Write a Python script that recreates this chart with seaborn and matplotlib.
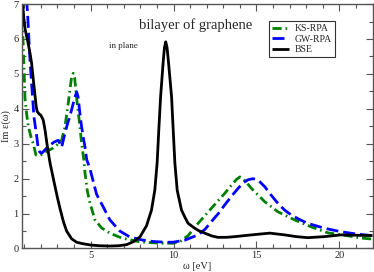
import numpy as np
import pandas as pd
import matplotlib
matplotlib.use("Agg")
import matplotlib.pyplot as plt
import seaborn as sns
from matplotlib.ticker import MultipleLocator

# ---- data ----
ks_w = [0.85, 0.92, 0.98, 1.04, 1.14, 1.24, 1.4, 1.54, 1.7, 1.85, 2.0, 2.25, 2.5, 2.75, 3.0, 3.25,
        3.45, 3.65, 3.85, 3.95, 4.03, 4.11, 4.2, 4.31, 4.46, 4.6, 4.66, 4.8, 4.96, 5.26, 5.66, 6.16,
        6.87, 7.97, 8.57, 9.3, 9.97, 10.4, 10.88, 11.48, 12.28, 13.09, 13.5, 13.8, 14.0, 14.2, 14.7,
        15.5, 16.3, 17.3, 18.3, 19.3, 20.3, 21.3, 22.0]
ks_v = [7.3, 6.0, 5.2, 4.3, 3.85, 3.5, 3.2, 3.0, 2.68, 2.66, 2.68, 2.75, 2.82, 2.88, 2.98, 3.1,
        3.48, 4.17, 4.91, 5.02, 4.9, 4.54, 4.1, 3.68, 3.0, 2.5, 2.16, 1.65, 1.3, 0.82, 0.59, 0.44,
        0.3, 0.19, 0.17, 0.15, 0.15, 0.2, 0.37, 0.72, 1.15, 1.58, 1.82, 1.98, 2.05, 2.0, 1.72,
        1.34, 1.05, 0.82, 0.62, 0.45, 0.38, 0.3, 0.27]

gw_w = [1.1, 1.2, 1.34, 1.48, 1.58, 1.75, 1.84, 1.95, 2.05, 2.2, 2.35, 2.55, 2.8, 3.05, 3.15, 3.25,
        3.4, 3.55, 3.7, 3.85, 4.05, 4.16, 4.24, 4.31, 4.42, 4.55, 4.66, 4.76, 4.96, 5.36, 5.76, 6.16,
        6.76, 7.36, 8.15, 8.77, 9.5, 9.97, 10.68, 11.0, 11.48, 11.9, 12.28, 12.7, 13.09, 13.5, 13.89,
        14.2, 14.5, 14.8, 15.1, 15.5, 15.9, 16.3, 16.7, 17.1, 17.6, 18.1, 19.1, 20.1, 21.1, 22.0]
gw_v = [7.4, 6.7, 5.4, 4.45, 3.77, 3.2, 2.85, 2.75, 2.73, 2.8, 2.88, 2.96, 3.05, 3.1, 3.0, 2.9,
        3.2, 3.48, 3.72, 3.97, 4.34, 4.48, 4.35, 4.05, 3.6, 3.2, 2.9, 2.55, 2.28, 1.55, 1.19, 0.82,
        0.5, 0.33, 0.24, 0.2, 0.18, 0.18, 0.24, 0.3, 0.39, 0.55, 0.77, 1.0, 1.25, 1.5, 1.72,
        1.88, 1.97, 2.0, 1.96, 1.77, 1.52, 1.29, 1.1, 0.96, 0.83, 0.72, 0.58, 0.48, 0.41, 0.37]

bse_w = [0.83, 0.9, 0.97, 1.04, 1.22, 1.34, 1.44, 1.55, 1.64, 1.72, 1.78, 1.9, 1.99, 2.14, 2.25,
         2.38, 2.55, 2.75, 3.0, 3.15, 3.35, 3.55, 3.85, 4.15, 4.5, 5.0, 5.5, 6.16, 6.7, 7.17, 7.6,
         7.97, 8.37, 8.67, 8.87, 9.01, 9.11, 9.22, 9.37, 9.45, 9.53, 9.61, 9.7, 9.88, 9.98, 10.08,
         10.22, 10.48, 10.68, 10.88, 11.28, 11.48, 11.88, 12.3, 12.67, 13.2, 13.7, 14.7, 15.8, 16.7,
         17.4, 18.1, 19.1, 20.1, 21.0, 22.0]
bse_v = [7.4, 7.0, 6.6, 6.3, 5.9, 5.6, 5.3, 4.8, 4.4, 4.05, 3.92, 3.85, 3.82, 3.68, 3.39,
         2.95, 2.45, 2.0, 1.45, 1.15, 0.78, 0.5, 0.28, 0.18, 0.14, 0.1, 0.08, 0.07, 0.08, 0.11, 0.2,
         0.33, 0.65, 1.1, 1.67, 2.45, 3.39, 4.35, 5.31, 5.75, 5.92, 5.75, 5.31, 4.35, 3.39, 2.45,
         1.67, 1.1, 0.9, 0.72, 0.58, 0.52, 0.44, 0.36, 0.32, 0.32, 0.34, 0.39, 0.44, 0.39,
         0.34, 0.31, 0.34, 0.39, 0.38, 0.37]

labels = ["KS-RPA", "GW-RPA", "BSE"]
x_ticks = [5, 10, 15, 20]
y_ticks = [0, 1, 2, 3, 4, 5, 6, 7]

sns.set_style("ticks")
plt.rcParams['font.family'] = ['Liberation Serif', 'DejaVu Serif']

fig = plt.figure(figsize=(3.74, 2.72), dpi=100)
ax = fig.add_axes([0.0575, 0.0864, 0.9385, 0.8986])

df_ks = pd.DataFrame({"w": ks_w, "v": ks_v})
df_gw = pd.DataFrame({"w": gw_w, "v": gw_v})
df_bse = pd.DataFrame({"w": bse_w, "v": bse_v})

sns.lineplot(data=df_ks, x="w", y="v", ax=ax, color="#008000", lw=2.0,
             label=labels[0], sort=False)
sns.lineplot(data=df_gw, x="w", y="v", ax=ax, color="#0000ff", lw=2.0,
             label=labels[1], sort=False)
sns.lineplot(data=df_bse, x="w", y="v", ax=ax, color="black", lw=2.0,
             label=labels[2], sort=False)
ax.lines[0].set_dashes([3.3, 1.4, 0.6, 1.4])
ax.lines[1].set_dashes([4.3, 1.8])
for l in ax.lines:
    l.set_solid_capstyle('butt')
    l.set_dash_capstyle('butt')
    l.set_solid_joinstyle('round')

ax.set_xlim(0.83, 22)
ax.set_ylim(0, 7)
ax.set_xticks(x_ticks)
ax.set_yticks(y_ticks)
ax.xaxis.set_minor_locator(MultipleLocator(1))
ax.yaxis.set_minor_locator(MultipleLocator(0.5))
ax.tick_params(which='both', direction='in', top=True, right=True, labelsize=7.5,
               width=0.8, color='#555555', pad=2)
ax.tick_params(which='major', length=5)
ax.tick_params(which='minor', length=3)
for s in ax.spines.values():
    s.set_visible(True)
    s.set_linewidth(1.0)
    s.set_color('#555555')

ax.set_xlabel("ω [eV]", fontsize=7.5, labelpad=1)
ax.set_ylabel("Im ε(ω)", fontsize=7.5, labelpad=2)

ax.text(0.495, 0.915, "bilayer of graphene", transform=ax.transAxes, ha='center', va='center',
        fontsize=10.5)
ax.text(0.29, 0.83, "in plane", transform=ax.transAxes, ha='center', va='center', fontsize=6.5)

leg = ax.legend(loc='upper right', bbox_to_anchor=(0.893, 0.930), fontsize=7, frameon=True,
                fancybox=False, edgecolor='#333333', framealpha=1, handlelength=1.8,
                handletextpad=0.6, borderpad=0.3, labelspacing=0.15, borderaxespad=0)
leg.get_frame().set_linewidth(0.8)
for h in leg.get_lines():
    h.set_linewidth(2.0)

fig.savefig("out.png", dpi=100)
